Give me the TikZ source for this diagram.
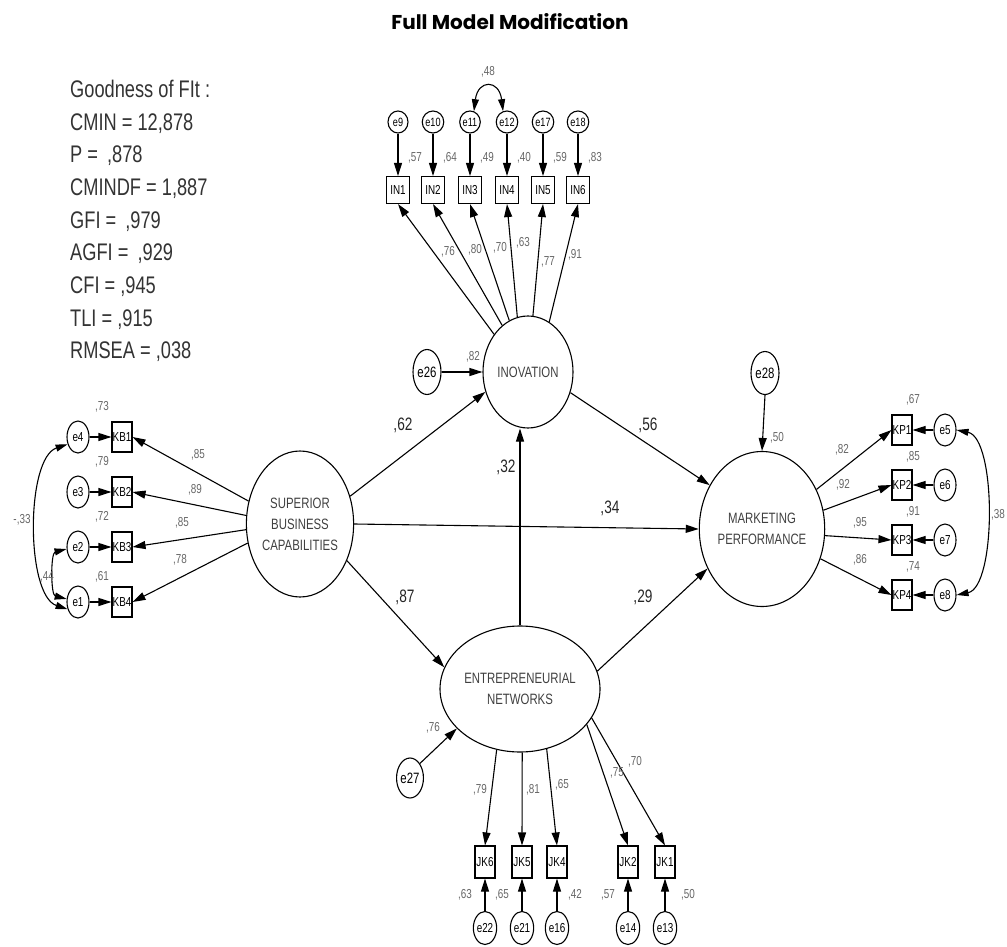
\documentclass[tikz,border=0pt]{standalone}
\usepackage{fontspec}
\setmainfont{Liberation Sans}[FakeStretch=0.76]
\newfontfamily\titlefont{Poppins}
\usetikzlibrary{shapes.geometric,arrows.meta}
\begin{document}
\begin{tikzpicture}[x=1pt,y=-1pt,
 lat/.style={ellipse,draw,line width=1.1pt,inner sep=0pt,text=black!75,align=center,font=\fontsize{15}{21}\selectfont},
 err/.style={ellipse,draw,line width=1.1pt,inner sep=0pt,minimum width=22pt,minimum height=32pt,font=\fontsize{13}{13}\selectfont},
 errs/.style={err,minimum width=20pt,minimum height=22pt,font=\fontsize{12}{12}\selectfont},
 obs/.style={rectangle,draw,line width=1.1pt,inner sep=0pt,minimum width=20pt,minimum height=30pt,font=\fontsize{13}{13}\selectfont},
 obsi/.style={obs,minimum width=23pt,minimum height=27pt},
 arr/.style={line width=1.1pt,-{Triangle[length=13pt,width=8pt]}},
 cov/.style={line width=1.1pt,{Triangle[length=12pt,width=7pt]}-{Triangle[length=12pt,width=7pt]}},
 coef/.style={font=\fontsize{18}{18}\selectfont,text=black!85},
 sm/.style={font=\fontsize{13}{13}\selectfont,text=black!60},
]
\useasboundingbox (0,0) rectangle (1007,947);

% title
\node[font={\titlefont\bfseries\fontsize{20}{24}\selectfont}] (title) at (510,22) {Full Model Modification};

% fit statistics
\node[anchor=west,align=left,inner sep=0pt,text=black!80,font=\fontsize{24}{32.7}\selectfont] (fit) at (70,221)
 {Goodness of FIt :\\CMIN = 12,878\\P = \,,878\\CMINDF = 1,887\\GFI = \,,979\\AGFI = \,,929\\CFI = ,945\\TLI = ,915\\RMSEA = ,038};

% latent variables
\node[lat,minimum width=90pt,minimum height=112pt] (INO) at (528,372) {INOVATION};
\node[lat,minimum width=106pt,minimum height=146pt] (SBC) at (300,524) {SUPERIOR\\BUSINESS\\CAPABILITIES};
\node[lat,minimum width=100pt,minimum height=155pt] (MP) at (762,529) {MARKETING\\PERFORMANCE};
\node[lat,minimum width=160pt,minimum height=126pt] (EN) at (520,689) {ENTREPRENEURIAL\\NETWORKS};

% disturbances
\node[err,minimum width=28pt,minimum height=45pt,font=\fontsize{15}{15}\selectfont] (e26) at (427,372) {e26};
\node[err,minimum width=28pt,minimum height=43pt,font=\fontsize{15}{15}\selectfont] (e28) at (765,373) {e28};
\node[err,minimum width=25pt,minimum height=40pt,font=\fontsize{15}{15}\selectfont] (e27) at (410,778) {e27};

% INOVATION indicators
\foreach \i/\x/\e in {1/398/e9,2/433/e10,3/470/e11,4/507/e12,5/543/e17,6/578/e18}{
  \node[obsi] (IN\i) at (\x,190) {IN\i};
  \node[errs] (\e) at (\x,122) {\e};
  \draw[arr] (\e.south) -- (IN\i.north);
}
\foreach \i/\a in {1/132,2/119,3/110,4/101,5/85,6/67}{
  \draw[arr] (INO.\a) -- (IN\i.south);
}
\foreach \x/\t in {415/{,57},450/{,64},487/{,49},524/{,40},560/{,59},595/{,83}}{
  \node[sm] at (\x,158) {\t};
}
\node[sm] (l76) at (448,252) {,76};
\node[sm] (l80) at (475,250) {,80};
\node[sm] (l70) at (500,248) {,70};
\node[sm] (l63) at (523,243) {,63};
\node[sm] (l77) at (548,262) {,77};
\node[sm] (l91) at (575,255) {,91};
\draw[cov] (e11.70) .. controls +(4,-32) and +(-4,-32) .. (e12.110);
\node[sm] (l48) at (488,72) {,48};

% SBC indicators
\foreach \i/\y/\e in {1/437/e4,2/492/e3,3/547/e2,4/602/e1}{
  \node[obs] (KB\i) at (122,\y) {KB\i};
  \node[err] (\e) at (78,\y) {\e};
  \draw[arr] (\e.east) -- (KB\i.west);
}
\foreach \i/\a in {1/156,2/171,3/186,4/200}{
  \draw[arr] (SBC.\a) -- (KB\i.east);
}
\node[sm] at (102,407) {,73};
\node[sm] at (102,462) {,79};
\node[sm] at (102,517) {,72};
\node[sm] at (102,577) {,61};
\node[sm] at (198,455) {,85};
\node[sm] at (195,490) {,89};
\node[sm] at (182,523) {,85};
\node[sm] at (180,560) {,78};
\draw[cov] (e4.215) .. controls +(-42,14) and +(-42,-14) .. (e1.215);
\draw[cov] (e2.190) .. controls +(-16,4) and +(-16,-4) .. (e1.165);
\node[sm] (l33) at (22,520) {-,33};
\node[sm] (l44) at (47,577) {,44};

% MP indicators
\foreach \i/\y/\e in {1/430/e5,2/485/e6,3/540/e7,4/595/e8}{
  \node[obs] (KP\i) at (902,\y) {KP\i};
  \node[err] (\e) at (945,\y) {\e};
  \draw[arr] (\e.west) -- (KP\i.east);
}
\foreach \i/\a in {1/36,2/17,3/354,4/333}{
  \draw[arr] (MP.\a) -- (KP\i.west);
}
\node[sm] at (913,400) {,67};
\node[sm] at (913,457) {,85};
\node[sm] at (913,512) {,91};
\node[sm] at (913,567) {,74};
\node[sm] at (842,450) {,82};
\node[sm] at (843,485) {,92};
\node[sm] at (860,523) {,95};
\node[sm] at (860,560) {,86};
\draw[cov] (e5.east) .. controls +(40,8) and +(40,-8) .. (e8.east);
\node[sm] (l38) at (998,515) {,38};

% EN indicators
\foreach \n/\x/\e/\a in {6/485/e22/249,5/522/e21/272,4/557/e16/294,2/628/e14/332,1/665/e13/338}{
  \node[obs,minimum height=32pt] (JK\n) at (\x,862) {JK\n};
  \node[err,minimum height=33pt] (\e) at (\x,928) {\e};
  \draw[arr] (\e.north) -- (JK\n.south);
  \draw[arr] (EN.\a) -- (JK\n.north);
}
\node[sm] at (480,790) {,79};
\node[sm] at (533,790) {,81};
\node[sm] at (562,785) {,65};
\node[sm] at (617,773) {,75};
\node[sm] at (635,762) {,70};
\node[sm] at (465,895) {,63};
\node[sm] at (502,895) {,65};
\node[sm] at (575,895) {,42};
\node[sm] at (608,895) {,57};
\node[sm] at (688,895) {,50};

% structural paths
\draw[arr] (SBC.29) -- (INO.205);
\node[coef] (c62) at (403,425) {,62};
\draw[arr] (INO.334) -- (MP.140);
\node[coef] (c56) at (648,425) {,56};
\draw[arr] (SBC.east) -- (MP.west);
\node[coef] (c34) at (610,508) {,34};
\draw[arr] (EN.north) -- (EN.north |- INO.south);
\node[coef] (c32) at (506,467) {,32};
\draw[arr] (SBC.322) -- (EN.164);
\node[coef] (c87) at (405,597) {,87};
\draw[arr] (EN.13) -- (MP.216);
\node[coef] (c29) at (643,597) {,29};

% disturbance paths
\draw[arr] (e26.east) -- (INO.west);
\node[sm] at (473,357) {,82};
\draw[arr] (e28.south) -- (MP.north);
\node[sm] at (777,438) {,50};
\draw[arr] (e27.north east) -- (EN.212);
\node[sm] at (433,728) {,76};
\end{tikzpicture}
\end{document}
